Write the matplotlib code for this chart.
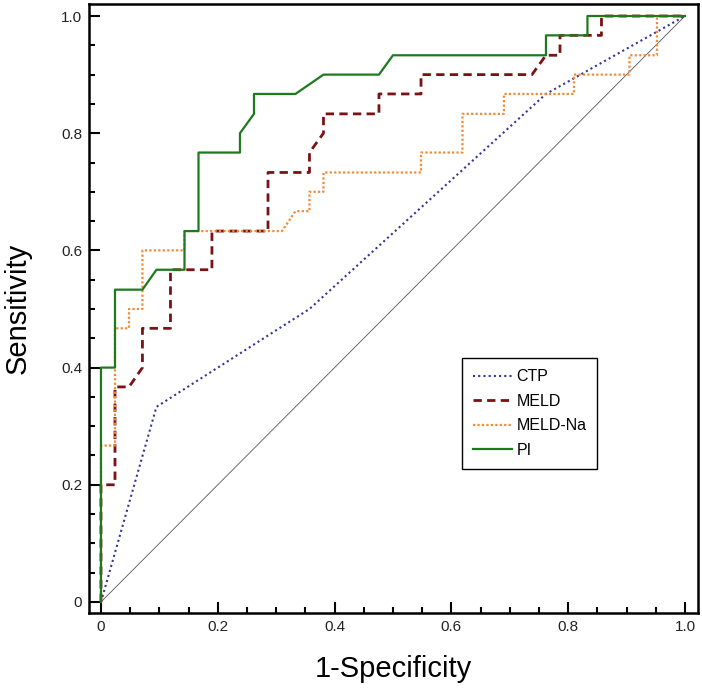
import matplotlib
matplotlib.use("Agg")
import matplotlib.pyplot as plt
from matplotlib.ticker import MultipleLocator, FixedLocator, FixedFormatter

plt.rcParams['font.family'] = ['Liberation Sans', 'DejaVu Sans']

# ---- data ----
ctp_fpr = [0.0, 0.095, 0.357, 0.762, 1.0]
ctp_tpr = [0.0, 0.333, 0.500, 0.867, 1.0]

meld_fpr = [0.0, 0.0, 0.024, 0.024, 0.048, 0.071, 0.071, 0.119, 0.119, 0.190, 0.190,
            0.286, 0.286, 0.357, 0.357, 0.381, 0.381, 0.476, 0.476, 0.548, 0.548,
            0.738, 0.762, 0.786, 0.786, 0.857, 0.857, 1.0]
meld_tpr = [0.0, 0.200, 0.200, 0.367, 0.367, 0.400, 0.467, 0.467, 0.567, 0.567, 0.633,
            0.633, 0.733, 0.733, 0.767, 0.800, 0.833, 0.833, 0.867, 0.867, 0.900,
            0.900, 0.933, 0.933, 0.967, 0.967, 1.0, 1.0]

meldna_fpr = [0.0, 0.0, 0.024, 0.024, 0.048, 0.048, 0.071, 0.071, 0.143, 0.143, 0.310,
              0.333, 0.357, 0.357, 0.381, 0.381, 0.548, 0.548, 0.619, 0.619, 0.690,
              0.690, 0.810, 0.810, 0.905, 0.905, 0.952, 0.952, 1.0]
meldna_tpr = [0.0, 0.267, 0.267, 0.467, 0.467, 0.500, 0.500, 0.600, 0.600, 0.633, 0.633,
              0.667, 0.667, 0.700, 0.700, 0.733, 0.733, 0.767, 0.767, 0.833, 0.833,
              0.867, 0.867, 0.900, 0.900, 0.933, 0.933, 1.0, 1.0]

pi_fpr = [0.0, 0.0, 0.024, 0.024, 0.071, 0.095, 0.143, 0.143, 0.167, 0.167, 0.238,
          0.238, 0.262, 0.262, 0.333, 0.381, 0.476, 0.500, 0.762, 0.762, 0.833,
          0.833, 1.0]
pi_tpr = [0.0, 0.400, 0.400, 0.533, 0.533, 0.567, 0.567, 0.633, 0.633, 0.767, 0.767,
          0.800, 0.833, 0.867, 0.867, 0.900, 0.900, 0.933, 0.933, 0.967, 0.967,
          1.0, 1.0]

ref_line = [0.0, 1.0]

series_labels = ["CTP", "MELD", "MELD-Na", "PI"]
tick_values = [0.0, 0.2, 0.4, 0.6, 0.8, 1.0]
tick_labels = ["0", "0.2", "0.4", "0.6", "0.8", "1.0"]

# ---- figure ----
fig = plt.figure(figsize=(7.02, 6.89), dpi=100)
ax = fig.add_axes([89 / 702, 76 / 689, 609 / 702, 609 / 689])

ax.plot(ref_line, ref_line, color='#555555', lw=0.6, zorder=1)
ax.plot(ctp_fpr, ctp_tpr, color='#35359a', lw=1.5, linestyle=(0, (1, 1.5)),
        label=series_labels[0], zorder=2)
ax.plot(meld_fpr, meld_tpr, color='#7a1214', lw=2.0, linestyle=(0, (3.0, 1.9)),
        label=series_labels[1], zorder=3)
ax.plot(meldna_fpr, meldna_tpr, color='#f28a35', lw=1.6, linestyle=(0, (1, 1)),
        label=series_labels[2], zorder=4)
ax.plot(pi_fpr, pi_tpr, color='#1d7a1d', lw=1.6, linestyle='-',
        label=series_labels[3], zorder=5)

ax.set_xlim(-0.0205, 1.0223)
ax.set_ylim(-0.0188, 1.0205)

for axis in (ax.xaxis, ax.yaxis):
    axis.set_major_locator(FixedLocator(tick_values))
    axis.set_major_formatter(FixedFormatter(tick_labels))
    axis.set_minor_locator(MultipleLocator(0.05))

ax.tick_params(which='major', direction='in', length=8, width=1.5, pad=5,
               labelsize=11, color='black', labelcolor='#222222')
ax.tick_params(which='minor', direction='in', length=4.3, width=1.5)
ax.tick_params(top=False, right=False, which='both')

for sp in ax.spines.values():
    sp.set_linewidth(1.8)
    sp.set_color('black')

ax.set_xlabel('1-Specificity', fontsize=21, va='center')
ax.xaxis.set_label_coords(0.5, -0.092)
ax.set_ylabel('Sensitivity', fontsize=21, va='center', ha='center')
ax.yaxis.set_label_coords(-0.117, 0.5)

leg = ax.legend(loc='upper left', bbox_to_anchor=(0.6125, 0.4187), borderaxespad=0,
                fontsize=11.5, handlelength=2.45, handletextpad=0.25,
                borderpad=0.7, labelspacing=0.6, fancybox=False, framealpha=1,
                edgecolor='black')
leg.get_frame().set_linewidth(1.0)

fig.savefig('out.png', dpi=100)
